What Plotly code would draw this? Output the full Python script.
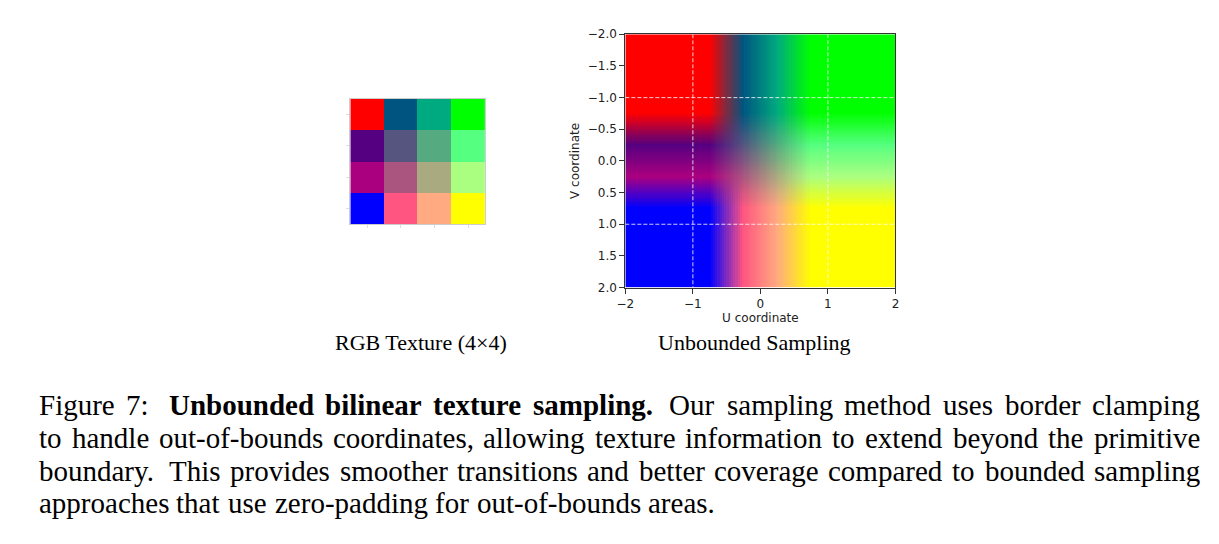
import numpy as np
import plotly.graph_objects as go

W, H = 1219, 544

# 4x4 RGB texture (rows top->bottom, cols left->right)
texture = [
    [[255, 0, 0],   [0, 85, 128],   [0, 170, 128],   [0, 255, 0]],
    [[85, 0, 128],  [85, 85, 128],  [85, 170, 128],  [85, 255, 128]],
    [[170, 0, 128], [170, 85, 128], [170, 170, 128], [170, 255, 128]],
    [[0, 0, 255],   [255, 85, 128], [255, 170, 128], [255, 255, 0]],
]
u_range = [-2, 2]
v_range = [-2, 2]
tex_bounds = [-1, 1]
n_samples = 120
u_ticks = [-2, -1, 0, 1, 2]
v_ticks = [-2.0, -1.5, -1.0, -0.5, 0.0, 0.5, 1.0, 1.5, 2.0]
grid_vals = [-1, 1]

subtitle_left = "RGB Texture (4×4)"
subtitle_right = "Unbounded Sampling"
caption_lines = [
    "Figure 7: **Unbounded **bilinear **texture **sampling. Our sampling method uses border clamping",
    "to handle out-of-bounds coordinates, allowing texture information to extend beyond the primitive",
    "boundary. This provides smoother transitions and better coverage compared to bounded sampling",
    "approaches that use zero-padding for out-of-bounds areas.",
]
caption_justify = [True, True, True, False]

# ---- bilinear sampling with border clamping ----
tex = np.array(texture, dtype=float)
n = tex.shape[0]
du = (u_range[1] - u_range[0]) / n_samples
us = u_range[0] + du * (np.arange(n_samples) + 0.5)
vs = v_range[0] + du * (np.arange(n_samples) + 0.5)
scale = n / (tex_bounds[1] - tex_bounds[0])
fu = np.clip((us - tex_bounds[0]) * scale - 0.5, 0, n - 1)
fv = np.clip((vs - tex_bounds[0]) * scale - 0.5, 0, n - 1)
iu0 = np.minimum(np.floor(fu).astype(int), n - 2); wu = fu - iu0
iv0 = np.minimum(np.floor(fv).astype(int), n - 2); wv = fv - iv0
V0, U0 = np.meshgrid(iv0, iu0, indexing="ij")
WV, WU = np.meshgrid(wv, wu, indexing="ij")
WV = WV[..., None]; WU = WU[..., None]
samp = (tex[V0, U0] * (1 - WV) * (1 - WU) + tex[V0, U0 + 1] * (1 - WV) * WU
        + tex[V0 + 1, U0] * WV * (1 - WU) + tex[V0 + 1, U0 + 1] * WV * WU)
samp = np.round(samp).astype(int).tolist()

fig = go.Figure()
fig.add_trace(go.Image(z=texture, x0=0, dx=1, y0=0, dy=1, xaxis="x", yaxis="y", hoverinfo="skip"))
fig.add_trace(go.Image(z=samp, x0=us[0], dx=du, y0=vs[0], dy=du, xaxis="x2", yaxis="y2", hoverinfo="skip"))

def px(x): return x / W
def py(y): return 1 - y / H

tick_font = dict(family="DejaVu Sans", size=12, color="#222")
title_font = dict(family="DejaVu Sans", size=12, color="#222")
fig.update_layout(
    width=W, height=H, margin=dict(l=0, r=0, t=0, b=0),
    paper_bgcolor="white", plot_bgcolor="white", showlegend=False,
    xaxis=dict(domain=[px(345), px(481)], range=[-0.5, 3.5], tickvals=[0, 1, 2, 3], ticktext=[""] * 4,
               ticks="outside", ticklen=3, tickcolor="#ddd", showgrid=False, zeroline=False,
               showline=True, linecolor="#ccc", mirror=True),
    yaxis=dict(domain=[py(223), py(94)], range=[3.5, -0.5], tickvals=[0, 1, 2, 3], ticktext=[""] * 4,
               ticks="outside", ticklen=3, tickcolor="#ddd", showgrid=False, zeroline=False,
               showline=True, linecolor="#ccc", mirror=True, scaleanchor=False),
    xaxis2=dict(domain=[px(623), px(896)], range=u_range, tickvals=u_ticks,
                ticktext=[f"{t:d}".replace("-", "−") for t in u_ticks],
                ticks="outside", ticklen=5, tickcolor="#333", showgrid=False, zeroline=False,
                showline=True, linecolor="#333", linewidth=1, mirror=True, anchor="y2",
                tickfont=tick_font,
                title=dict(text="U coordinate", font=title_font, standoff=0)),
    yaxis2=dict(domain=[py(288), py(28)], range=[v_range[1], v_range[0]], tickvals=v_ticks,
                ticktext=[f"{t:.1f}".replace("-", "−") for t in v_ticks],
                ticks="outside", ticklen=5, tickcolor="#333", showgrid=False, zeroline=False,
                showline=True, linecolor="#333", linewidth=1, mirror=True, anchor="x2",
                tickfont=tick_font, scaleanchor=False,
                title=dict(text="V coordinate", font=title_font, standoff=5)),
)

for g in grid_vals:
    fig.add_shape(type="line", xref="x2", yref="y2", x0=g, x1=g, y0=v_range[0], y1=v_range[1],
                  line=dict(color="rgba(255,255,255,0.8)", width=1, dash="4px,2px"))
    fig.add_shape(type="line", xref="x2", yref="y2", x0=u_range[0], x1=u_range[1], y0=g, y1=g,
                  line=dict(color="rgba(255,255,255,0.8)", width=1, dash="4px,2px"))

serif = "Liberation Serif"
fig.add_annotation(text=subtitle_left, x=px(416), y=py(344), xref="paper", yref="paper",
                   xanchor="center", yanchor="middle",
                   showarrow=False, font=dict(family=serif, size=22, color="black"))
fig.add_annotation(text=subtitle_right, x=px(754), y=py(344), xref="paper", yref="paper",
                   xanchor="center", yanchor="middle",
                   showarrow=False, font=dict(family=serif, size=22, color="black"))

# ---- justified caption: approximate Times glyph widths (per 1000 em) ----
REG = dict(zip("abcdefghijklmnopqrstuvwxyz",
               [444, 500, 444, 500, 444, 333, 500, 500, 278, 278, 500, 278, 778, 500, 500, 500, 500, 333,
                389, 278, 500, 500, 722, 500, 500, 444]))
REG.update({"A": 722, "B": 667, "F": 556, "O": 722, "T": 611, "U": 722, ".": 250, ",": 250,
            ":": 278, "-": 333, "7": 500})
BOLD = dict(zip("abcdefghijklmnopqrstuvwxyz",
                [500, 556, 444, 556, 444, 333, 500, 556, 278, 333, 556, 278, 833, 556, 500, 556, 556, 444,
                 389, 333, 556, 500, 722, 500, 500, 444]))
BOLD.update({"U": 722, ".": 250})

cap_size = 29
cap_left, cap_right = 29, 1202
cap_baselines = [415, 448, 482, 515]

def wwidth(word, bold):
    tab = BOLD if bold else REG
    return sum(tab.get(c, 500) for c in word) * cap_size / 1000.0

for line, justify, base in zip(caption_lines, caption_justify, cap_baselines):
    words = []
    for tok in line.split(" "):
        bold = tok.startswith("**")
        words.append((tok[2:] if bold else tok, bold))
    if words[0][0] == "Figure":
        words = [(w, b or (2 <= i <= 5)) for i, (w, b) in enumerate(words)]
    widths = [wwidth(w, b) for w, b in words]
    weights = []
    for i in range(len(words) - 1):
        prev = words[i][0]
        weights.append(1.6 if prev.endswith(":") else (1.4 if prev.endswith(".") else 1.0))
    if justify:
        unit = (cap_right - cap_left - sum(widths)) / sum(weights)
    else:
        unit = 0.3 * cap_size
    x = cap_left
    for i, ((w, b), wd) in enumerate(zip(words, widths)):
        txt = f"<b>{w}</b>" if b else w
        fig.add_annotation(text=txt, x=px(x), y=py(base - 6), xref="paper", yref="paper",
                           xanchor="left", yanchor="middle", showarrow=False, borderpad=0,
                           font=dict(family=serif, size=cap_size, color="black"))
        if i < len(weights):
            x += wd + unit * weights[i]

fig.write_html("out.html")
